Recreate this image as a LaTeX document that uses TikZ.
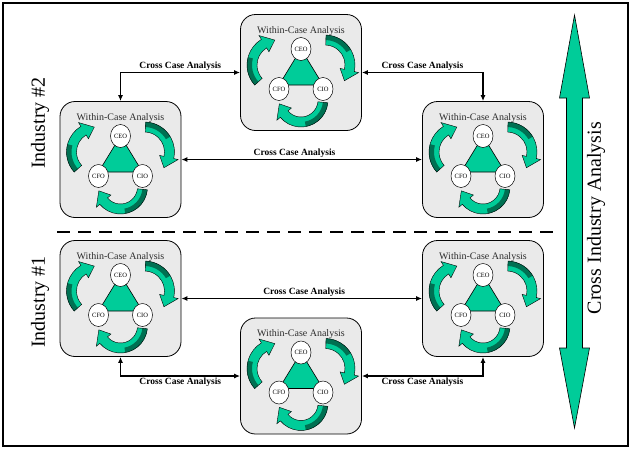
\documentclass[tikz,border=0pt]{standalone}
\usepackage{fontspec}
\setmainfont{Liberation Serif}
\usetikzlibrary{shapes.geometric,arrows.meta,calc}
\definecolor{agreen}{RGB}{0,204,153}
\definecolor{dgreen}{RGB}{0,112,82}
\definecolor{boxgray}{RGB}{234,234,234}
\definecolor{titlegray}{RGB}{45,45,45}
\tikzset{
  casebox/.style={draw=black, line width=0.8pt, fill=boxgray, rounded corners=15pt,
    minimum width=121pt, minimum height=116pt, inner sep=0pt},
  casetitle/.style={font=\fontsize{10}{12}\selectfont, text=titlegray, inner sep=0pt},
  role/.style={ellipse, draw=black, line width=0.5pt, fill=white, minimum width=20pt,
    minimum height=23pt, inner sep=0pt, font=\fontsize{6.5}{7}\selectfont},
  link/.style={line width=1.3pt, {Latex[length=6pt,width=5pt]}-{Latex[length=6pt,width=5pt]}},
  linklabel/.style={font=\bfseries\fontsize{9.5}{11}\selectfont, inner sep=1.2pt},
  industry/.style={font=\fontsize{20}{24}\selectfont, rotate=90, inner sep=0pt},
  bigarrow/.style={fill=agreen, draw=black, line width=0.6pt},
}
% curved arrow: cx, cy, radius, start angle, end angle (clockwise)
\newcommand\CArrow[5]{%
  \pgfmathsetmacro\cahb{#5+11.5/#3*180/pi}%
  \pgfmathsetmacro\camid{#4-(#4-#5)*0.45}%
  \def\caPath{({#4}:{#3+5}) arc[start angle={#4}, end angle={\cahb}, radius={#3+5}]
    -- ({\cahb}:{#3+9.5}) -- ({#5}:{#3}) -- ({\cahb}:{#3-9.5}) -- ({\cahb}:{#3-5})
    arc[start angle={\cahb}, end angle={#4}, radius={#3-5}] -- cycle}%
  \begin{scope}[shift={(#1,#2)}]
    \fill[agreen] \caPath;
    \fill[dgreen] ({#4}:{#3+5}) arc[start angle={#4}, end angle={\camid}, radius={#3+5}]
      -- ({\camid}:{#3}) arc[start angle={\camid}, end angle={#4}, radius={#3}] -- cycle;
    \draw[line width=0.4pt] \caPath;
  \end{scope}}
% case box: name, x, y
\newcommand\CaseBox[3]{%
  \node[casebox] (#1) at (#2,#3) {};
  \begin{scope}[shift={(#2,#3)}]
    \node[casetitle] (#1-title) at (0,41.5) {Within-Case Analysis};
    \CArrow{-24}{7.5}{25}{222}{95}
    \CArrow{24}{7.5}{25}{88}{-39}
    \CArrow{0}{-27.5}{22}{-6}{-170}
    \draw[fill=agreen, line width=0.6pt] (0,23.5) -- (-22,-12.5) -- (22,-12.5) -- cycle;
    \node[role] (#1-ceo) at (0,23.5) {CEO};
    \node[role] (#1-cfo) at (-22,-16.5) {CFO};
    \node[role] (#1-cio) at (22,-16.5) {CIO};
  \end{scope}}
\begin{document}
\begin{tikzpicture}[x=1pt,y=1pt]
  \useasboundingbox (0,0) rectangle (631,-448);
  \fill[white] (0,0) rectangle (631,-448);
  \draw[line width=2pt] (3,-3) rectangle (628,-445.5);

  \CaseBox{TC}{301}{-72.5}
  \CaseBox{UL}{120.5}{-159.5}
  \CaseBox{UR}{483}{-159.5}
  \CaseBox{LL}{120.5}{-298.5}
  \CaseBox{LR}{483}{-298.5}
  \CaseBox{BC}{301}{-376}

  \draw[link] (UL.north) |- node[linklabel, pos=0.75, above] {Cross Case Analysis} (TC.west);
  \draw[link] (TC.east) -| node[linklabel, pos=0.25, above] {Cross Case Analysis} (UR.north);
  \draw[link] (UL.east) -- node[linklabel, pos=0.47, above] {Cross Case Analysis} (UR.west);
  \draw[link] (LL.east) -- node[linklabel, pos=0.51, above] {Cross Case Analysis} (LR.west);
  \draw[link] (LL.south) |- node[linklabel, pos=0.75, below] {Cross Case Analysis} (BC.west);
  \draw[link] (BC.east) -| node[linklabel, pos=0.25, below] {Cross Case Analysis} (LR.south);

  \draw[line width=2pt, dash pattern=on 13pt off 8pt] (57,-232) -- (553,-232);

  \node[industry] (ind2) at (40,-123) {Industry \#2};
  \node[industry] (ind1) at (40,-302) {Industry \#1};

  \draw[bigarrow] (574.5,-15) -- (589.5,-98) -- (582.5,-98) -- (582.5,-348) -- (589.5,-348)
    -- (574.5,-428) -- (559.5,-348) -- (566.5,-348) -- (566.5,-98) -- (559.5,-98) -- cycle;
  \node[industry] (cia) at (596,-218) {Cross Industry Analysis};
\end{tikzpicture}
\end{document}
